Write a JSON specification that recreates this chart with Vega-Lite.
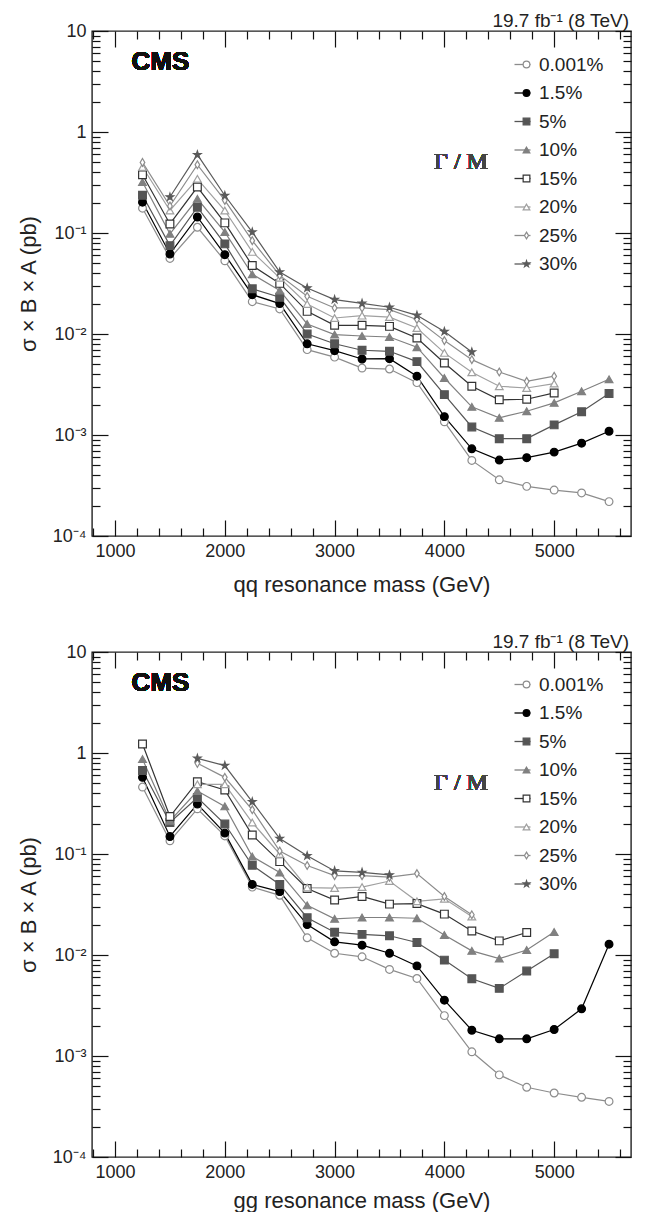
{
  "$schema": "https://vega.github.io/schema/vega-lite/v6.json",
  "padding": {"left": 16, "top": 11, "right": 4, "bottom": 0},
  "background": "#ffffff",
  "config": {
    "font": "Liberation Sans",
    "view": {"stroke": "#222222", "strokeWidth": 1.4},
    "axis": {"domain": false, "grid": false, "ticks": true, "tickColor": "#111111", "tickOpacity": 1, "tickWidth": 1.2, "zindex": 1, "labelFontSize": 18, "labelColor": "#222222", "titleFontSize": 22, "titleFontWeight": "normal", "titleColor": "#222222", "labelOverlap": false, "labelBound": false, "labelFlush": false},
    "title": {"fontSize": 19, "fontWeight": "normal", "color": "#222222", "anchor": "end", "frame": "group", "offset": -9, "dx": -2},
    "concat": {"spacing": 36}
  },
  "datasets": {
    "qq": [
      {"g":0.001,"m":1250,"v":0.176},{"g":0.001,"m":1500,"v":0.056},{"g":0.001,"m":1750,"v":0.114},{"g":0.001,"m":2000,"v":0.053},{"g":0.001,"m":2250,"v":0.0209},{"g":0.001,"m":2500,"v":0.0177},{"g":0.001,"m":2750,"v":0.0070},{"g":0.001,"m":3000,"v":0.0059},{"g":0.001,"m":3250,"v":0.0046},{"g":0.001,"m":3500,"v":0.0045},{"g":0.001,"m":3750,"v":0.0033},{"g":0.001,"m":4000,"v":0.00135},{"g":0.001,"m":4250,"v":0.00056},{"g":0.001,"m":4500,"v":0.00036},{"g":0.001,"m":4750,"v":0.00031},{"g":0.001,"m":5000,"v":0.000285},{"g":0.001,"m":5250,"v":0.000267},{"g":0.001,"m":5500,"v":0.000219},
      {"g":1.5,"m":1250,"v":0.202},{"g":1.5,"m":1500,"v":0.062},{"g":1.5,"m":1750,"v":0.144},{"g":1.5,"m":2000,"v":0.061},{"g":1.5,"m":2250,"v":0.0245},{"g":1.5,"m":2500,"v":0.020},{"g":1.5,"m":2750,"v":0.0080},{"g":1.5,"m":3000,"v":0.00684},{"g":1.5,"m":3250,"v":0.00566},{"g":1.5,"m":3500,"v":0.0057},{"g":1.5,"m":3750,"v":0.00382},{"g":1.5,"m":4000,"v":0.00152},{"g":1.5,"m":4250,"v":0.00073},{"g":1.5,"m":4500,"v":0.000565},{"g":1.5,"m":4750,"v":0.000596},{"g":1.5,"m":5000,"v":0.000677},{"g":1.5,"m":5250,"v":0.00083},{"g":1.5,"m":5500,"v":0.00109},
      {"g":5,"m":1250,"v":0.236},{"g":5,"m":1500,"v":0.075},{"g":5,"m":1750,"v":0.18},{"g":5,"m":2000,"v":0.078},{"g":5,"m":2250,"v":0.028},{"g":5,"m":2500,"v":0.0231},{"g":5,"m":2750,"v":0.010},{"g":5,"m":3000,"v":0.008},{"g":5,"m":3250,"v":0.0069},{"g":5,"m":3500,"v":0.00674},{"g":5,"m":3750,"v":0.00533},{"g":5,"m":4000,"v":0.00251},{"g":5,"m":4250,"v":0.0012},{"g":5,"m":4500,"v":0.00092},{"g":5,"m":4750,"v":0.00092},{"g":5,"m":5000,"v":0.00126},{"g":5,"m":5250,"v":0.0017},{"g":5,"m":5500,"v":0.00257},
      {"g":10,"m":1250,"v":0.32},{"g":10,"m":1500,"v":0.098},{"g":10,"m":1750,"v":0.218},{"g":10,"m":2000,"v":0.102},{"g":10,"m":2250,"v":0.039},{"g":10,"m":2500,"v":0.027},{"g":10,"m":2750,"v":0.01256},{"g":10,"m":3000,"v":0.00985},{"g":10,"m":3250,"v":0.00955},{"g":10,"m":3500,"v":0.00934},{"g":10,"m":3750,"v":0.0074},{"g":10,"m":4000,"v":0.00367},{"g":10,"m":4250,"v":0.0019},{"g":10,"m":4500,"v":0.00148},{"g":10,"m":4750,"v":0.00172},{"g":10,"m":5000,"v":0.00208},{"g":10,"m":5250,"v":0.00271},{"g":10,"m":5500,"v":0.00356},
      {"g":15,"m":1250,"v":0.377},{"g":15,"m":1500,"v":0.123},{"g":15,"m":1750,"v":0.285},{"g":15,"m":2000,"v":0.126},{"g":15,"m":2250,"v":0.0476},{"g":15,"m":2500,"v":0.0317},{"g":15,"m":2750,"v":0.01675},{"g":15,"m":3000,"v":0.0122},{"g":15,"m":3250,"v":0.0122},{"g":15,"m":3500,"v":0.0119},{"g":15,"m":3750,"v":0.00913},{"g":15,"m":4000,"v":0.00517},{"g":15,"m":4250,"v":0.00304},{"g":15,"m":4500,"v":0.00223},{"g":15,"m":4750,"v":0.00226},{"g":15,"m":5000,"v":0.00261},
      {"g":20,"m":1250,"v":0.45},{"g":20,"m":1500,"v":0.167},{"g":20,"m":1750,"v":0.344},{"g":20,"m":2000,"v":0.167},{"g":20,"m":2250,"v":0.065},{"g":20,"m":2500,"v":0.036},{"g":20,"m":2750,"v":0.0198},{"g":20,"m":3000,"v":0.0144},{"g":20,"m":3250,"v":0.0152},{"g":20,"m":3500,"v":0.0147},{"g":20,"m":3750,"v":0.01147},{"g":20,"m":4000,"v":0.0065},{"g":20,"m":4250,"v":0.00418},{"g":20,"m":4500,"v":0.00304},{"g":20,"m":4750,"v":0.00292},{"g":20,"m":5000,"v":0.00323},
      {"g":25,"m":1250,"v":0.50},{"g":25,"m":1500,"v":0.185},{"g":25,"m":1750,"v":0.474},{"g":25,"m":2000,"v":0.21},{"g":25,"m":2250,"v":0.084},{"g":25,"m":2500,"v":0.038},{"g":25,"m":2750,"v":0.0236},{"g":25,"m":3000,"v":0.0181},{"g":25,"m":3250,"v":0.0181},{"g":25,"m":3500,"v":0.0174},{"g":25,"m":3750,"v":0.0139},{"g":25,"m":4000,"v":0.0086},{"g":25,"m":4250,"v":0.00557},{"g":25,"m":4500,"v":0.00421},{"g":25,"m":4750,"v":0.0034},{"g":25,"m":5000,"v":0.00382},
      {"g":30,"m":1500,"v":0.227},{"g":30,"m":1750,"v":0.596},{"g":30,"m":2000,"v":0.235},{"g":30,"m":2250,"v":0.102},{"g":30,"m":2500,"v":0.041},{"g":30,"m":2750,"v":0.0285},{"g":30,"m":3000,"v":0.0219},{"g":30,"m":3250,"v":0.0201},{"g":30,"m":3500,"v":0.0184},{"g":30,"m":3750,"v":0.0153},{"g":30,"m":4000,"v":0.0106},{"g":30,"m":4250,"v":0.00664}
    ],
    "gg": [
      {"g":0.001,"m":1250,"v":0.46},{"g":0.001,"m":1500,"v":0.135},{"g":0.001,"m":1750,"v":0.28},{"g":0.001,"m":2000,"v":0.151},{"g":0.001,"m":2250,"v":0.047},{"g":0.001,"m":2500,"v":0.039},{"g":0.001,"m":2750,"v":0.0148},{"g":0.001,"m":3000,"v":0.0104},{"g":0.001,"m":3250,"v":0.0096},{"g":0.001,"m":3500,"v":0.0072},{"g":0.001,"m":3750,"v":0.00586},{"g":0.001,"m":4000,"v":0.00251},{"g":0.001,"m":4250,"v":0.0011},{"g":0.001,"m":4500,"v":0.00065},{"g":0.001,"m":4750,"v":0.00049},{"g":0.001,"m":5000,"v":0.00043},{"g":0.001,"m":5250,"v":0.00039},{"g":0.001,"m":5500,"v":0.000355},
      {"g":1.5,"m":1250,"v":0.574},{"g":1.5,"m":1500,"v":0.149},{"g":1.5,"m":1750,"v":0.312},{"g":1.5,"m":2000,"v":0.161},{"g":1.5,"m":2250,"v":0.050},{"g":1.5,"m":2500,"v":0.0424},{"g":1.5,"m":2750,"v":0.0200},{"g":1.5,"m":3000,"v":0.0135},{"g":1.5,"m":3250,"v":0.0125},{"g":1.5,"m":3500,"v":0.0104},{"g":1.5,"m":3750,"v":0.0078},{"g":1.5,"m":4000,"v":0.00357},{"g":1.5,"m":4250,"v":0.0018},{"g":1.5,"m":4500,"v":0.00148},{"g":1.5,"m":4750,"v":0.00148},{"g":1.5,"m":5000,"v":0.00183},{"g":1.5,"m":5250,"v":0.00293},{"g":1.5,"m":5500,"v":0.0128},
      {"g":5,"m":1250,"v":0.67},{"g":5,"m":1500,"v":0.205},{"g":5,"m":1750,"v":0.363},{"g":5,"m":2000,"v":0.198},{"g":5,"m":2250,"v":0.0774},{"g":5,"m":2500,"v":0.050},{"g":5,"m":2750,"v":0.0234},{"g":5,"m":3000,"v":0.0168},{"g":5,"m":3250,"v":0.016},{"g":5,"m":3500,"v":0.0155},{"g":5,"m":3750,"v":0.0133},{"g":5,"m":4000,"v":0.0089},{"g":5,"m":4250,"v":0.00582},{"g":5,"m":4500,"v":0.00467},{"g":5,"m":4750,"v":0.00693},{"g":5,"m":5000,"v":0.0103},
      {"g":10,"m":1250,"v":0.87},{"g":10,"m":1500,"v":0.213},{"g":10,"m":1750,"v":0.42},{"g":10,"m":2000,"v":0.296},{"g":10,"m":2250,"v":0.0944},{"g":10,"m":2500,"v":0.0655},{"g":10,"m":2750,"v":0.031},{"g":10,"m":3000,"v":0.0228},{"g":10,"m":3250,"v":0.0235},{"g":10,"m":3500,"v":0.0235},{"g":10,"m":3750,"v":0.0231},{"g":10,"m":4000,"v":0.0158},{"g":10,"m":4250,"v":0.011},{"g":10,"m":4500,"v":0.0092},{"g":10,"m":4750,"v":0.0112},{"g":10,"m":5000,"v":0.0169},
      {"g":15,"m":1250,"v":1.23},{"g":15,"m":1500,"v":0.235},{"g":15,"m":1750,"v":0.52},{"g":15,"m":2000,"v":0.43},{"g":15,"m":2250,"v":0.154},{"g":15,"m":2500,"v":0.084},{"g":15,"m":2750,"v":0.0455},{"g":15,"m":3000,"v":0.035},{"g":15,"m":3250,"v":0.038},{"g":15,"m":3500,"v":0.0319},{"g":15,"m":3750,"v":0.0323},{"g":15,"m":4000,"v":0.0254},{"g":15,"m":4250,"v":0.0173},{"g":15,"m":4500,"v":0.0138},{"g":15,"m":4750,"v":0.0167},
      {"g":20,"m":1750,"v":0.49},{"g":20,"m":2000,"v":0.49},{"g":20,"m":2250,"v":0.205},{"g":20,"m":2500,"v":0.10},{"g":20,"m":2750,"v":0.0465},{"g":20,"m":3000,"v":0.046},{"g":20,"m":3250,"v":0.047},{"g":20,"m":3500,"v":0.054},{"g":20,"m":3750,"v":0.034},{"g":20,"m":4000,"v":0.036},{"g":20,"m":4250,"v":0.024},
      {"g":25,"m":1750,"v":0.79},{"g":25,"m":2000,"v":0.574},{"g":25,"m":2250,"v":0.274},{"g":25,"m":2500,"v":0.107},{"g":25,"m":2750,"v":0.077},{"g":25,"m":3000,"v":0.061},{"g":25,"m":3250,"v":0.061},{"g":25,"m":3500,"v":0.059},{"g":25,"m":3750,"v":0.064},{"g":25,"m":4000,"v":0.038},{"g":25,"m":4250,"v":0.025},
      {"g":30,"m":1750,"v":0.885},{"g":30,"m":2000,"v":0.75},{"g":30,"m":2250,"v":0.329},{"g":30,"m":2500,"v":0.142},{"g":30,"m":2750,"v":0.096},{"g":30,"m":3000,"v":0.068},{"g":30,"m":3250,"v":0.0657},{"g":30,"m":3500,"v":0.062}
    ]
  },
  "resolve": {"scale": {"color": "independent", "fill": "independent", "stroke": "independent", "shape": "independent"}},
  "vconcat": [
    {
      "width": 539, "height": 505,
      "title": {"text": "19.7 fb⁻¹ (8 TeV)"},
      "data": {"name": "qq"},
      "layer": [
        {
          "mark": {"type": "line", "strokeWidth": 1.2},
          "encoding": {
            "x": {"field": "m", "type": "quantitative", "scale": {"domain": [790, 5700], "nice": false, "zero": false},
              "axis": {"orient": "bottom", "values": [1000, 2000, 3000, 4000, 5000], "labelExpr": "'' + datum.value", "offset": -16, "ticks": true, "tickSize": 16, "labelPadding": 6, "title": "qq resonance mass (GeV)", "titlePadding": 14}},
            "y": {"field": "v", "type": "quantitative", "scale": {"type": "log", "domain": [0.0001, 10], "nice": false},
              "axis": {"orient": "left", "values": [0.0001, 0.001, 0.01, 0.1, 1, 10],
                "labelExpr": "datum.value == 10 ? '10' : datum.value == 1 ? '1' : datum.value == 0.1 ? '10⁻¹' : datum.value == 0.01 ? '10⁻²' : datum.value == 0.001 ? '10⁻³' : '10⁻⁴'",
                "offset": -16, "ticks": true, "tickSize": 16, "labelPadding": 6, "title": "σ × B × A (pb)", "titlePadding": 12}},
            "color": {"field": "g", "type": "ordinal",
              "scale": {"domain": [0.001, 1.5, 5, 10, 15, 20, 25, 30], "range": ["#8c8c8c", "#000000", "#555555", "#808080", "#333333", "#a0a0a0", "#8c8c8c", "#5a5a5a"]},
              "legend": {"orient": "none", "legendX": 421, "legendY": 24, "direction": "vertical", "title": null, "symbolType": "stroke", "symbolSize": 256, "symbolStrokeWidth": 1.3, "labelFontSize": 19, "labelColor": "#222222", "labelOffset": 7, "rowPadding": 8.5, "padding": 0, "labelExpr": "datum.value + '%'"}}
          }
        },
        {
          "mark": {"type": "point", "filled": true, "size": 60, "strokeWidth": 1.2, "opacity": 1},
          "encoding": {
            "x": {"field": "m", "type": "quantitative",
              "axis": {"orient": "top", "values": [1000, 2000, 3000, 4000, 5000], "labels": false, "title": null, "offset": -16, "ticks": true, "tickSize": 16}},
            "y": {"field": "v", "type": "quantitative",
              "axis": {"orient": "right", "values": [0.0001, 0.001, 0.01, 0.1, 1, 10], "labels": false, "title": null, "offset": -16, "ticks": true, "tickSize": 16}},
            "shape": {"field": "g", "type": "ordinal",
              "scale": {"range": ["circle", "circle", "square", "triangle-up", "square", "triangle-up", "M0,-1L0.6,0L0,1L-0.6,0Z", "M0,-1L0.224,-0.309L0.951,-0.309L0.363,0.118L0.588,0.809L0,0.382L-0.588,0.809L-0.363,0.118L-0.951,-0.309L-0.224,-0.309Z"]},
              "legend": {"orient": "none", "legendX": 425, "legendY": 24, "direction": "vertical", "title": null, "symbolSize": 45, "symbolStrokeWidth": 1.2, "labelFontSize": 19, "labelExpr": "''", "rowPadding": 8.5, "padding": 0}},
            "fill": {"field": "g", "type": "ordinal",
              "scale": {"range": ["#ffffff", "#000000", "#555555", "#808080", "#ffffff", "#ffffff", "#ffffff", "#5a5a5a"]},
              "legend": {"orient": "none", "legendX": 425, "legendY": 24, "direction": "vertical", "title": null, "symbolSize": 45, "symbolStrokeWidth": 1.2, "labelFontSize": 19, "labelExpr": "''", "rowPadding": 8.5, "padding": 0}},
            "stroke": {"field": "g", "type": "ordinal",
              "scale": {"range": ["#8c8c8c", "#000000", "#555555", "#808080", "#333333", "#a0a0a0", "#8c8c8c", "#5a5a5a"]},
              "legend": {"orient": "none", "legendX": 425, "legendY": 24, "direction": "vertical", "title": null, "symbolSize": 45, "symbolStrokeWidth": 1.2, "labelFontSize": 19, "labelExpr": "''", "rowPadding": 8.5, "padding": 0}}
          }
        },
        {
          "mark": {"type": "text", "text": "CMS", "font": "Liberation Sans", "fontWeight": "bold", "fontSize": 26, "align": "left", "baseline": "middle", "color": "#111111"},
          "encoding": {
            "x": {"datum": 1150, "type": "quantitative",
              "axis": {"orient": "bottom", "values": [800,1200,1400,1600,1800,2200,2400,2600,2800,3200,3400,3600,3800,4200,4400,4600,4800,5200,5400,5600], "labels": false, "title": null, "offset": -8, "ticks": true, "tickSize": 8}},
            "y": {"datum": 4.9, "type": "quantitative",
              "axis": {"orient": "left", "values": [0.0002,0.0003,0.0004,0.0005,0.0006,0.0007,0.0008,0.0009,0.002,0.003,0.004,0.005,0.006,0.007,0.008,0.009,0.02,0.03,0.04,0.05,0.06,0.07,0.08,0.09,0.2,0.3,0.4,0.5,0.6,0.7,0.8,0.9,2,3,4,5,6,7,8,9], "labels": false, "title": null, "offset": -8, "ticks": true, "tickSize": 8}}
          }
        },
        {
          "mark": {"type": "text", "text": "Γ / M", "font": "Liberation Serif", "fontWeight": "normal", "fontSize": 24, "align": "left", "baseline": "middle", "color": "#444444"},
          "encoding": {
            "x": {"datum": 3906, "type": "quantitative",
              "axis": {"orient": "top", "values": [800,1200,1400,1600,1800,2200,2400,2600,2800,3200,3400,3600,3800,4200,4400,4600,4800,5200,5400,5600], "labels": false, "title": null, "offset": -8, "ticks": true, "tickSize": 8}},
            "y": {"datum": 0.505, "type": "quantitative",
              "axis": {"orient": "right", "values": [0.0002,0.0003,0.0004,0.0005,0.0006,0.0007,0.0008,0.0009,0.002,0.003,0.004,0.005,0.006,0.007,0.008,0.009,0.02,0.03,0.04,0.05,0.06,0.07,0.08,0.09,0.2,0.3,0.4,0.5,0.6,0.7,0.8,0.9,2,3,4,5,6,7,8,9], "labels": false, "title": null, "offset": -8, "ticks": true, "tickSize": 8}}
          }
        }
      ],
      "resolve": {"axis": {"x": "independent", "y": "independent"}}
    },
    {
      "width": 539, "height": 505,
      "title": {"text": "19.7 fb⁻¹ (8 TeV)"},
      "data": {"name": "gg"},
      "layer": [
        {
          "mark": {"type": "line", "strokeWidth": 1.2},
          "encoding": {
            "x": {"field": "m", "type": "quantitative", "scale": {"domain": [790, 5700], "nice": false, "zero": false},
              "axis": {"orient": "bottom", "values": [1000, 2000, 3000, 4000, 5000], "labelExpr": "'' + datum.value", "offset": -16, "ticks": true, "tickSize": 16, "labelPadding": 6, "title": "gg resonance mass (GeV)", "titlePadding": 9}},
            "y": {"field": "v", "type": "quantitative", "scale": {"type": "log", "domain": [0.0001, 10], "nice": false},
              "axis": {"orient": "left", "values": [0.0001, 0.001, 0.01, 0.1, 1, 10],
                "labelExpr": "datum.value == 10 ? '10' : datum.value == 1 ? '1' : datum.value == 0.1 ? '10⁻¹' : datum.value == 0.01 ? '10⁻²' : datum.value == 0.001 ? '10⁻³' : '10⁻⁴'",
                "offset": -16, "ticks": true, "tickSize": 16, "labelPadding": 6, "title": "σ × B × A (pb)", "titlePadding": 12}},
            "color": {"field": "g", "type": "ordinal",
              "scale": {"domain": [0.001, 1.5, 5, 10, 15, 20, 25, 30], "range": ["#8c8c8c", "#000000", "#555555", "#808080", "#333333", "#a0a0a0", "#8c8c8c", "#5a5a5a"]},
              "legend": {"orient": "none", "legendX": 421, "legendY": 23, "direction": "vertical", "title": null, "symbolType": "stroke", "symbolSize": 256, "symbolStrokeWidth": 1.3, "labelFontSize": 19, "labelColor": "#222222", "labelOffset": 7, "rowPadding": 8.5, "padding": 0, "labelExpr": "datum.value + '%'"}}
          }
        },
        {
          "mark": {"type": "point", "filled": true, "size": 60, "strokeWidth": 1.2, "opacity": 1},
          "encoding": {
            "x": {"field": "m", "type": "quantitative",
              "axis": {"orient": "top", "values": [1000, 2000, 3000, 4000, 5000], "labels": false, "title": null, "offset": -16, "ticks": true, "tickSize": 16}},
            "y": {"field": "v", "type": "quantitative",
              "axis": {"orient": "right", "values": [0.0001, 0.001, 0.01, 0.1, 1, 10], "labels": false, "title": null, "offset": -16, "ticks": true, "tickSize": 16}},
            "shape": {"field": "g", "type": "ordinal",
              "scale": {"range": ["circle", "circle", "square", "triangle-up", "square", "triangle-up", "M0,-1L0.6,0L0,1L-0.6,0Z", "M0,-1L0.224,-0.309L0.951,-0.309L0.363,0.118L0.588,0.809L0,0.382L-0.588,0.809L-0.363,0.118L-0.951,-0.309L-0.224,-0.309Z"]},
              "legend": {"orient": "none", "legendX": 425, "legendY": 23, "direction": "vertical", "title": null, "symbolSize": 45, "symbolStrokeWidth": 1.2, "labelFontSize": 19, "labelExpr": "''", "rowPadding": 8.5, "padding": 0}},
            "fill": {"field": "g", "type": "ordinal",
              "scale": {"range": ["#ffffff", "#000000", "#555555", "#808080", "#ffffff", "#ffffff", "#ffffff", "#5a5a5a"]},
              "legend": {"orient": "none", "legendX": 425, "legendY": 23, "direction": "vertical", "title": null, "symbolSize": 45, "symbolStrokeWidth": 1.2, "labelFontSize": 19, "labelExpr": "''", "rowPadding": 8.5, "padding": 0}},
            "stroke": {"field": "g", "type": "ordinal",
              "scale": {"range": ["#8c8c8c", "#000000", "#555555", "#808080", "#333333", "#a0a0a0", "#8c8c8c", "#5a5a5a"]},
              "legend": {"orient": "none", "legendX": 425, "legendY": 23, "direction": "vertical", "title": null, "symbolSize": 45, "symbolStrokeWidth": 1.2, "labelFontSize": 19, "labelExpr": "''", "rowPadding": 8.5, "padding": 0}}
          }
        },
        {
          "mark": {"type": "text", "text": "CMS", "font": "Liberation Sans", "fontWeight": "bold", "fontSize": 26, "align": "left", "baseline": "middle", "color": "#111111"},
          "encoding": {
            "x": {"datum": 1150, "type": "quantitative",
              "axis": {"orient": "bottom", "values": [800,1200,1400,1600,1800,2200,2400,2600,2800,3200,3400,3600,3800,4200,4400,4600,4800,5200,5400,5600], "labels": false, "title": null, "offset": -8, "ticks": true, "tickSize": 8}},
            "y": {"datum": 4.9, "type": "quantitative",
              "axis": {"orient": "left", "values": [0.0002,0.0003,0.0004,0.0005,0.0006,0.0007,0.0008,0.0009,0.002,0.003,0.004,0.005,0.006,0.007,0.008,0.009,0.02,0.03,0.04,0.05,0.06,0.07,0.08,0.09,0.2,0.3,0.4,0.5,0.6,0.7,0.8,0.9,2,3,4,5,6,7,8,9], "labels": false, "title": null, "offset": -8, "ticks": true, "tickSize": 8}}
          }
        },
        {
          "mark": {"type": "text", "text": "Γ / M", "font": "Liberation Serif", "fontWeight": "normal", "fontSize": 24, "align": "left", "baseline": "middle", "color": "#444444"},
          "encoding": {
            "x": {"datum": 3906, "type": "quantitative",
              "axis": {"orient": "top", "values": [800,1200,1400,1600,1800,2200,2400,2600,2800,3200,3400,3600,3800,4200,4400,4600,4800,5200,5400,5600], "labels": false, "title": null, "offset": -8, "ticks": true, "tickSize": 8}},
            "y": {"datum": 0.5, "type": "quantitative",
              "axis": {"orient": "right", "values": [0.0002,0.0003,0.0004,0.0005,0.0006,0.0007,0.0008,0.0009,0.002,0.003,0.004,0.005,0.006,0.007,0.008,0.009,0.02,0.03,0.04,0.05,0.06,0.07,0.08,0.09,0.2,0.3,0.4,0.5,0.6,0.7,0.8,0.9,2,3,4,5,6,7,8,9], "labels": false, "title": null, "offset": -8, "ticks": true, "tickSize": 8}}
          }
        }
      ],
      "resolve": {"axis": {"x": "independent", "y": "independent"}}
    }
  ]
}
